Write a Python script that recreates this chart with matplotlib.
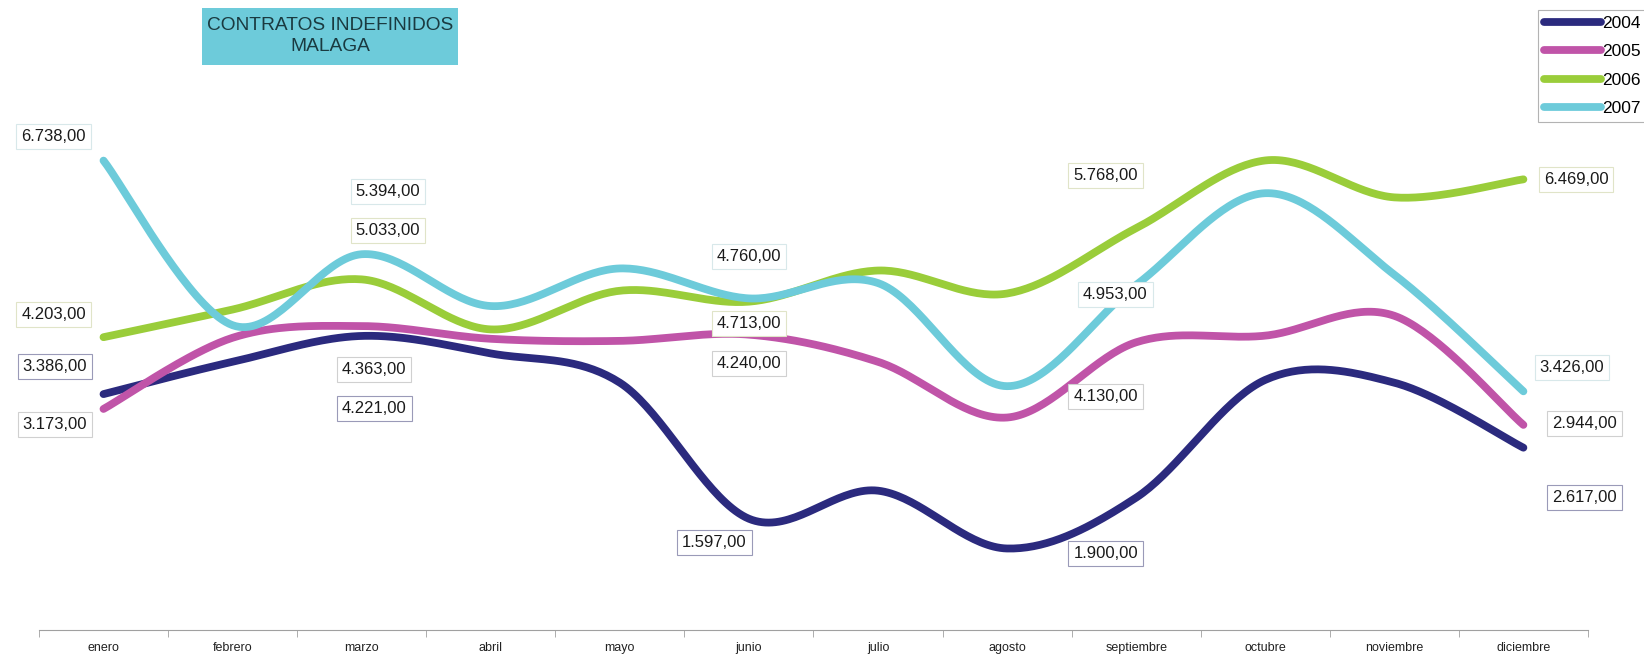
import numpy as np
import matplotlib.pyplot as plt
from matplotlib.patches import Rectangle

plt.rcParams['font.family'] = ['Liberation Sans', 'DejaVu Sans']

meses = ['enero', 'febrero', 'marzo', 'abril', 'mayo', 'junio', 'julio',
         'agosto', 'septiembre', 'octubre', 'noviembre', 'diciembre']

v2004 = [3386, 3850, 4221, 3970, 3550, 1597, 2000, 1170, 1900, 3590, 3550, 2617]
v2005 = [3173, 4195, 4363, 4180, 4150, 4240, 3850, 3050, 4130, 4225, 4510, 2944]
v2006 = [4203, 4600, 5033, 4315, 4870, 4713, 5160, 4830, 5768, 6740, 6210, 6469]
v2007 = [6738, 4375, 5394, 4650, 5190, 4760, 4980, 3500, 4953, 6270, 5100, 3426]

series = {'2004': v2004, '2005': v2005, '2006': v2006, '2007': v2007}
colores = {'2004': '#2b2a7e', '2005': '#c054a8', '2006': '#9acd3a', '2007': '#6dcbda'}
bordes = {'2004': '#9a9ab8', '2005': '#d0d0d0', '2006': '#e0e4c8', '2007': '#d8e8ea'}

# which points carry a label, and where the label sits (offset in points)
etiquetas = {
    '2004': {0: (-35, 20), 2: (9, -52), 5: (-25, -17), 8: (-22, -40), 11: (44, -36)},
    '2005': {0: (-35, -11), 2: (9, -31), 5: (0, -21), 8: (-22, -39), 11: (44, 1)},
    '2006': {0: (-36, 16), 2: (19, 35), 5: (0, -16), 8: (-22, 38), 11: (38, 0)},
    '2007': {0: (-36, 17), 2: (19, 45), 5: (0, 30), 8: (-15, -7), 11: (35, 17)},
}


def suavizar(y, n=40):
    # bezier smoothing through every point, like the spreadsheet curve
    y = np.asarray(y, dtype=float)
    x = np.arange(len(y), dtype=float)
    px = np.concatenate([[x[0]], x, [x[-1]]])
    py = np.concatenate([[y[0]], y, [y[-1]]])
    xs, ys = [], []
    t = np.linspace(0, 1, n)
    for i in range(len(y) - 1):
        p0 = np.array([px[i], py[i]])
        p1 = np.array([px[i + 1], py[i + 1]])
        p2 = np.array([px[i + 2], py[i + 2]])
        p3 = np.array([px[i + 3], py[i + 3]])
        c1 = p1 + (p2 - p0) / 6
        c2 = p2 - (p3 - p1) / 6
        b = ((1 - t) ** 3)[:, None] * p1 + (3 * (1 - t) ** 2 * t)[:, None] * c1 \
            + (3 * (1 - t) * t ** 2)[:, None] * c2 + (t ** 3)[:, None] * p2
        xs.extend(b[:, 0])
        ys.extend(b[:, 1])
    return np.array(xs), np.array(ys)


fig = plt.figure(figsize=(16.44, 6.54), dpi=100)
ax = fig.add_axes([0.0237, 0.0367, 0.9422, 0.9587])

for anio, vals in series.items():
    xs, ys = suavizar(vals)
    ax.plot(xs, ys, color=colores[anio], lw=5.6, solid_capstyle='round', label=anio)
    for i, (dx, dy) in etiquetas[anio].items():
        txt = f"{vals[i]:,}".replace(',', '.') + ',00'
        ax.annotate(txt, xy=(i, vals[i]), xytext=(dx, dy), textcoords='offset points',
                    ha='center', va='center', fontsize=12, color='#1a1a1a',
                    bbox=dict(boxstyle='square,pad=0.3', fc='white', ec=bordes[anio], lw=0.8),
                    zorder=5)

ax.set_xlim(-0.5, 11.5)
ax.set_ylim(0, 9000)
for s in ['top', 'left', 'right']:
    ax.spines[s].set_visible(False)
ax.spines['bottom'].set_color('#a0a0a0')
ax.set_yticks([])
ax.set_xticks(range(12))
ax.set_xticklabels(meses, fontsize=9, family=['Liberation Sans Narrow', 'Liberation Sans'])
ax.set_xticks(np.arange(-0.5, 12, 1), minor=True)
ax.tick_params(axis='x', which='major', length=0, pad=9, colors='#222222')
ax.tick_params(axis='x', which='minor', length=5, direction='out', color='#a0a0a0')

# title box
fig.patches.append(Rectangle((202 / 1644, 1 - 65 / 654), 256 / 1644, 57 / 654,
                             transform=fig.transFigure, fc='#6dcbda', ec='none'))
fig.text(330 / 1644, 1 - 36 / 654, 'CONTRATOS INDEFINIDOS\nMALAGA', ha='center', va='center',
         fontsize=13.8, color='#1a3a40', linespacing=1.3)

leg = ax.legend(loc='upper left', bbox_to_anchor=(1538 / 1644, 1 - 10 / 654), bbox_transform=fig.transFigure,
                fontsize=12.5, frameon=True, fancybox=False, edgecolor='#a0a0a0',
                handlelength=3.3, handletextpad=0.05, labelspacing=0.75, borderpad=0.35,
                borderaxespad=0)
leg.get_frame().set_linewidth(0.8)

fig.savefig('out.png', dpi=100)
